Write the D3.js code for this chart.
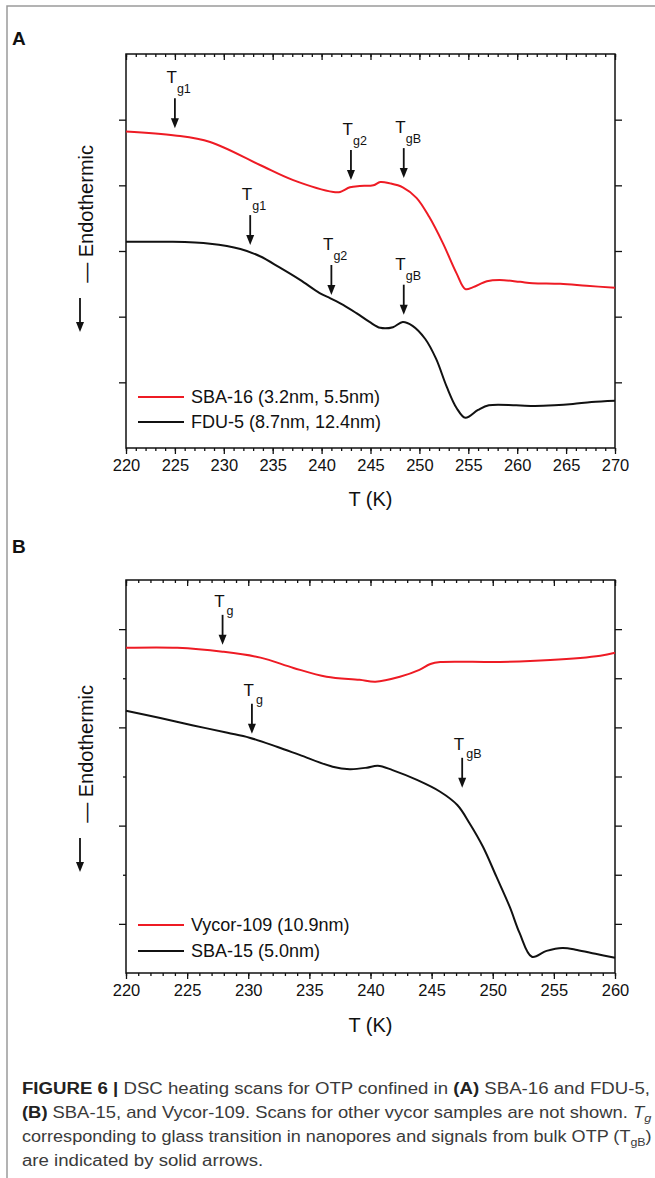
<!DOCTYPE html>
<html>
<head>
<meta charset="utf-8">
<script src="https://cdn.jsdelivr.net/npm/d3@7"></script>
<style>
  html, body { margin: 0; padding: 0; background: #fff; }
  svg { display: block; }
</style>
</head>
<body>
<svg id="fig" width="655" height="1178"></svg>
<script>
// ── Data (y in arbitrary heat-flow units, one unit per y tick) ──
// Panel A
var sba16 = [
  [220.0, 4.82], [225.0, 4.76], [228.6, 4.66], [233.7, 4.31], [237.1, 4.08],
  [241.2, 3.90], [241.9, 3.90], [242.9, 3.97], [243.9, 3.99], [245.3, 4.00],
  [246.0, 4.05], [247.0, 4.03], [248.3, 3.97], [249.7, 3.81], [251.0, 3.52],
  [252.4, 3.12], [253.8, 2.66], [254.7, 2.42], [255.5, 2.45], [256.9, 2.54],
  [258.2, 2.56], [260.3, 2.53], [261.6, 2.51], [264.4, 2.50], [267.1, 2.47],
  [270.0, 2.44]
];
var fdu5 = [
  [220.0, 3.14], [224.5, 3.14], [228.6, 3.11], [231.7, 3.03], [233.7, 2.92],
  [235.7, 2.75], [237.8, 2.56], [239.8, 2.36], [240.9, 2.28], [242.2, 2.18],
  [243.6, 2.05], [244.9, 1.92], [246.0, 1.83], [247.3, 1.84], [248.3, 1.92],
  [249.3, 1.86], [250.6, 1.66], [251.7, 1.36], [252.8, 0.93], [253.8, 0.61],
  [254.7, 0.46], [256.0, 0.58], [257.1, 0.65], [259.9, 0.65], [261.8, 0.64],
  [263.8, 0.65], [265.7, 0.67], [267.6, 0.70], [270.0, 0.72]
];
// Panel B
var vycor109 = [
  [220.0, 6.62], [224.2, 6.62], [227.9, 6.54], [231.0, 6.42], [233.7, 6.21],
  [236.4, 6.03], [239.1, 5.97], [240.4, 5.93], [242.4, 6.03], [244.0, 6.17],
  [244.9, 6.29], [245.7, 6.33], [250.6, 6.33], [254.7, 6.37], [258.8, 6.46],
  [260.0, 6.52]
];
var sba15 = [
  [220.0, 5.34], [222.8, 5.19], [225.5, 5.04], [228.3, 4.89], [230.1, 4.79],
  [232.4, 4.60], [234.2, 4.44], [236.9, 4.20], [238.3, 4.15], [239.7, 4.18],
  [240.6, 4.22], [241.8, 4.13], [243.8, 3.93], [245.7, 3.69], [247.1, 3.42],
  [248.1, 3.05], [249.2, 2.57], [250.3, 1.96], [251.4, 1.34], [252.2, 0.81],
  [253.2, 0.33], [254.4, 0.45], [255.7, 0.51], [256.9, 0.47], [258.4, 0.39],
  [260.0, 0.31]
];

// Arrow annotations: temperature, tip value, subscript
var arrowsA = [
  { T: 225.0, y: 4.87, sub: "g1" },
  { T: 243.0, y: 4.08, sub: "g2" },
  { T: 248.4, y: 4.11, sub: "gB" },
  { T: 232.7, y: 3.09, sub: "g1" },
  { T: 241.0, y: 2.33, sub: "g2" },
  { T: 248.4, y: 2.03, sub: "gB" }
];
var arrowsB = [
  { T: 227.9, y: 6.68, sub: "g" },
  { T: 230.3, y: 4.87, sub: "g" },
  { T: 247.5, y: 3.77, sub: "gB" }
];

var legendA = ["SBA-16 (3.2nm, 5.5nm)", "FDU-5 (8.7nm, 12.4nm)"];
var legendB = ["Vycor-109 (10.9nm)", "SBA-15 (5.0nm)"];

var xTicksA = [220, 225, 230, 235, 240, 245, 250, 255, 260, 265, 270];
var xTicksB = [220, 225, 230, 235, 240, 245, 250, 255, 260];
var yTicksA = [1, 2, 3, 4, 5];
var yMajorB = [1, 3, 5, 7];
var yMinorB = [2, 4, 6];
var yRightB = [1, 2, 3, 4, 5, 6, 7];

(function () {
  "use strict";

  var FONT = "'Liberation Sans', Arial, Helvetica, sans-serif";
  var C = { red: "#ee1b24", black: "#111", axis: "#111", frame: "#9a9a9a", caption: "#3a3a3a" };
  var L = 126, R = 615;

  var svg = d3.select("#fig");

  // ── Outer figure border (top + left edge only, runs off the page) ──────────
  svg.append("path")
    .attr("d", "M7,1178V6H655")
    .attr("fill", "none")
    .attr("stroke", C.frame)
    .attr("stroke-width", 1.5);

  function minorRange(a, b) {
    var out = [];
    for (var v = a; v <= b; v++) out.push(v);
    return out;
  }

  function styleAxis(a) {
    a.select(".domain").remove();
    a.selectAll(".tick line").attr("stroke", C.axis).attr("stroke-width", 1.3);
  }

  function drawArrow(g, x, y0, y1, color) {
    g.append("line")
      .attr("x1", x).attr("x2", x).attr("y1", y0).attr("y2", y1 - 8)
      .attr("stroke", color).attr("stroke-width", 1.8);
    g.append("path")
      .attr("d", "M" + (x - 4) + "," + (y1 - 10) + "L" + (x + 4) + "," + (y1 - 10) + "L" + x + "," + y1 + "Z")
      .attr("fill", color);
  }

  // ── One DSC panel ─────────────────────────────────────────────────────────
  function panel(opt) {
    var x = d3.scaleLinear().domain(opt.xDomain).range([L, R]);
    var y = d3.scaleLinear().domain(opt.yDomain).range([opt.bottom, opt.top]);
    var g = svg.append("g");

    // panel letter
    g.append("text")
      .attr("x", 12).attr("y", opt.letterY)
      .attr("font-family", FONT).attr("font-weight", "bold").attr("font-size", 19)
      .attr("fill", "#111")
      .text(opt.letter);

    // x minor ticks (every 1 K): outward at bottom, inward at top
    var minors = minorRange(opt.xDomain[0], opt.xDomain[1]);
    g.append("g").attr("transform", "translate(0," + opt.bottom + ")")
      .call(d3.axisBottom(x).tickValues(minors).tickSize(3).tickFormat(""))
      .call(styleAxis);
    g.append("g").attr("transform", "translate(0," + opt.top + ")")
      .call(d3.axisTop(x).tickValues(minors).tickSize(-3).tickFormat(""))
      .call(styleAxis);

    // x major ticks + labels
    g.append("g").attr("transform", "translate(0," + opt.bottom + ")")
      .call(d3.axisBottom(x).tickValues(opt.xTicks).tickSize(6).tickPadding(5).tickFormat(d3.format("d")))
      .call(styleAxis)
      .call(function (a) {
        a.selectAll("text").attr("font-size", 16.5).attr("font-family", FONT).attr("fill", "#111");
      });
    g.append("g").attr("transform", "translate(0," + opt.top + ")")
      .call(d3.axisTop(x).tickValues(opt.xTicks).tickSize(-6).tickFormat(""))
      .call(styleAxis);

    // y ticks (no labels)
    g.append("g").attr("transform", "translate(" + L + ",0)")
      .call(d3.axisLeft(y).tickValues(opt.yLeftMajor).tickSize(7).tickFormat(""))
      .call(styleAxis);
    if (opt.yLeftMinor) {
      g.append("g").attr("transform", "translate(" + L + ",0)")
        .call(d3.axisLeft(y).tickValues(opt.yLeftMinor).tickSize(3).tickFormat(""))
        .call(styleAxis);
    }
    g.append("g").attr("transform", "translate(" + R + ",0)")
      .call(d3.axisRight(y).tickValues(opt.yRight).tickSize(7).tickFormat(""))
      .call(styleAxis);

    // frame
    g.append("rect")
      .attr("x", L).attr("y", opt.top)
      .attr("width", R - L).attr("height", opt.bottom - opt.top)
      .attr("fill", "none").attr("stroke", C.axis).attr("stroke-width", 1.5);

    // x label
    g.append("text")
      .attr("x", (L + R) / 2).attr("y", opt.xLabelY)
      .attr("text-anchor", "middle")
      .attr("font-family", FONT).attr("font-size", 20).attr("fill", "#111")
      .text("T (K)");

    // y label + downward arrow
    g.append("text")
      .attr("transform", "translate(93," + opt.yLabelEnd + ") rotate(-90)")
      .attr("text-anchor", "end")
      .attr("font-family", FONT).attr("font-size", 20).attr("fill", "#111")
      .text("\u2014 Endothermic");
    var ax0 = opt.yLabelEnd + 153;
    drawArrow(g, 80, ax0, ax0 + 34, "#111");

    // curves
    var line = d3.line()
      .x(function (d) { return x(d[0]); })
      .y(function (d) { return y(d[1]); })
      .curve(d3.curveCatmullRom.alpha(0.5));

    opt.series.forEach(function (s) {
      g.append("path")
        .datum(s.data)
        .attr("fill", "none")
        .attr("stroke", s.color)
        .attr("stroke-width", 2)
        .attr("stroke-linejoin", "round")
        .attr("d", line);
    });

    // annotations: "T" + subscript above a solid arrow
    opt.arrows.forEach(function (a) {
      var ax = x(a.T), tip = y(a.y), top = tip - 30;
      drawArrow(g, ax, top, tip, "#111");
      g.append("text")
        .attr("x", ax + 2).attr("y", top + opt.tOff)
        .attr("text-anchor", "end")
        .attr("font-family", FONT).attr("font-size", 17).attr("fill", "#111")
        .text("T");
      g.append("text")
        .attr("x", ax + 2 + opt.subDx).attr("y", top + opt.subOff)
        .attr("font-family", FONT).attr("font-size", 12.5).attr("fill", "#111")
        .text(a.sub);
    });

    // legend
    opt.legend.forEach(function (label, i) {
      var ly = opt.legendY + i * opt.legendGap;
      g.append("line")
        .attr("x1", 138).attr("x2", 184).attr("y1", ly).attr("y2", ly)
        .attr("stroke", opt.series[i].color).attr("stroke-width", 2);
      g.append("text")
        .attr("x", 191).attr("y", ly + 6)
        .attr("font-family", FONT).attr("font-size", 18).attr("fill", "#111")
        .text(label);
    });
  }

  panel({
    letter: "A", letterY: 45,
    xDomain: [220, 270], yDomain: [0, 6], top: 54, bottom: 448,
    xTicks: xTicksA, yLeftMajor: yTicksA, yLeftMinor: null, yRight: yTicksA,
    xLabelY: 506, yLabelEnd: 145,
    series: [{ data: sba16, color: C.red }, { data: fdu5, color: C.black }],
    arrows: arrowsA, tOff: -15, subOff: -5, subDx: 0,
    legend: legendA, legendY: 397, legendGap: 25
  });

  panel({
    letter: "B", letterY: 553,
    xDomain: [220, 260], yDomain: [0, 8], top: 580, bottom: 973,
    xTicks: xTicksB, yLeftMajor: yMajorB, yLeftMinor: yMinorB, yRight: yRightB,
    xLabelY: 1032, yLabelEnd: 685,
    series: [{ data: vycor109, color: C.red }, { data: sba15, color: C.black }],
    arrows: arrowsB, tOff: -8, subOff: 0, subDx: 2,
    legend: legendB, legendY: 925, legendGap: 26
  });

  // ── Caption ───────────────────────────────────────────────────────────────
  var caption = [
    { w: 628, parts: [["FIGURE 6 |", "b"], [" DSC heating scans for OTP confined in "], ["(A)", "b"], [" SBA-16 and FDU-5,"]] },
    { w: 630, parts: [["(B)", "b"], [" SBA-15, and Vycor-109. Scans for other vycor samples are not shown. "], ["T", "i"], ["g", "isub"]] },
    { w: 630, parts: [["corresponding to glass transition in nanopores and signals from bulk OTP (T"], ["gB", "sub"], [")", "up"]] },
    { w: null, parts: [["are indicated by solid arrows."]] }
  ];

  var firstScale = 1;
  caption.forEach(function (ln, i) {
    var t = svg.append("text")
      .attr("x", 22).attr("y", 1094 + i * 24)
      .attr("font-family", FONT).attr("font-size", 16).attr("fill", C.caption);
    ln.parts.forEach(function (p) {
      var ts = t.append("tspan").text(p[0]);
      if (p[1] === "b") ts.attr("font-weight", "bold").attr("fill", "#222");
      if (p[1] === "i") ts.attr("font-style", "italic");
      if (p[1] === "isub" || p[1] === "sub") {
        ts.attr("font-size", 11).attr("dy", 4);
        if (p[1] === "isub") ts.attr("font-style", "italic");
      }
      if (p[1] === "up") ts.attr("dy", -4);
    });
    var natural = t.node().getComputedTextLength();
    var sx = ln.w ? ln.w / natural : firstScale;
    if (i === 0) firstScale = sx;
    t.attr("transform", "translate(22,0) scale(" + sx + ",1) translate(-22,0)");
  });
})();
</script>
</body>
</html>
